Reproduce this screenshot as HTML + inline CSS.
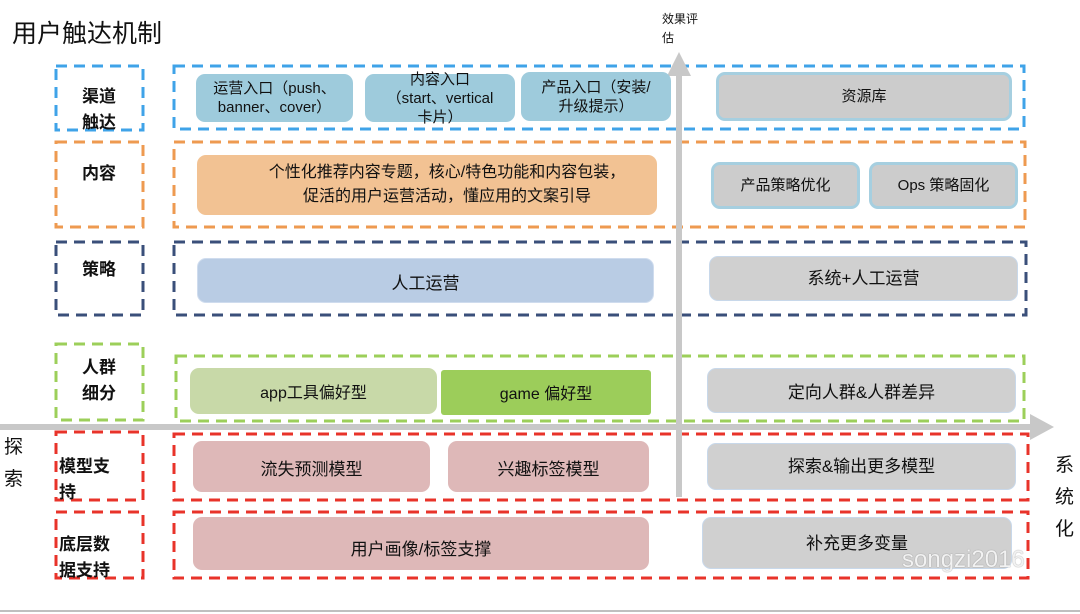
<!DOCTYPE html>
<html><head><meta charset="utf-8"><style>
body{margin:0;width:1080px;height:614px;background:#fff;position:relative;overflow:hidden;font-family:"Liberation Sans","Noto Sans CJK SC",sans-serif;color:#111}
.a{position:absolute}
.b{position:absolute;display:flex;align-items:center;justify-content:center;text-align:center;border-radius:9px;box-sizing:border-box;font-size:15px;line-height:21px}
.bl{background:#9ecbdc;font-size:14px;line-height:19px}
.g{background:#cccccc;border:3px solid #a6cfe0;font-size:15px}
.g2{background:#d0d0d0;border:1.5px solid #c8d8ea;font-size:17px}
.l{position:absolute;font-size:17px;font-weight:bold;line-height:26px;text-align:center;width:88px}
</style></head><body>
<div class="a" style="left:12px;top:14px;font-size:25px">用户触达机制</div>
<div class="a" style="left:662px;top:10px;font-size:12px;line-height:19px">效果评<br>估</div>
<svg class="a" style="left:0;top:0" width="1080" height="614">
<g fill="none" stroke-width="3" stroke-dasharray="11,7">
<rect x="56" y="66" width="87" height="64" stroke="#3fa3e8"/>
<rect x="174" y="66" width="850" height="63" stroke="#3fa3e8"/>
<rect x="56" y="142" width="87" height="85" stroke="#ee9a50"/>
<rect x="174" y="142" width="851" height="85" stroke="#ee9a50"/>
<rect x="56" y="242" width="87" height="73" stroke="#3a4f7a"/>
<rect x="174" y="242" width="852" height="73" stroke="#3a4f7a"/>
<rect x="56" y="344" width="87" height="76" stroke="#9ccf5a"/>
<rect x="176" y="356" width="848" height="65" stroke="#9ccf5a"/>
<rect x="56" y="432" width="87" height="68" stroke="#e8332a"/>
<rect x="174" y="434" width="854" height="66" stroke="#e8332a"/>
<rect x="56" y="512" width="87" height="66" stroke="#e8332a"/>
<rect x="174" y="512" width="854" height="66" stroke="#e8332a"/>
</g>
<line x1="0" y1="427" x2="1032" y2="427" stroke="#c8c8c8" stroke-width="6"/>
<polygon points="1030,414 1054,427 1030,440" fill="#c8c8c8"/>
<line x1="679" y1="497" x2="679" y2="74" stroke="#c8c8c8" stroke-width="6"/>
<polygon points="667,76 679,52 691,76" fill="#c8c8c8"/>
<line x1="0" y1="611" x2="1080" y2="611" stroke="#aaa" stroke-width="1.5"/>
</svg>
<div class="l" style="left:55px;top:84px">渠道<br>触达</div>
<div class="l" style="left:55px;top:161px">内容</div>
<div class="l" style="left:55px;top:257px">策略</div>
<div class="l" style="left:55px;top:355px">人群<br>细分</div>
<div class="l" style="left:59px;top:454px;text-align:left">模型支<br>持</div>
<div class="l" style="left:59px;top:532px;text-align:left">底层数<br>据支持</div>
<div class="a" style="left:4px;top:432px;font-size:19px;line-height:32px">探<br>索</div>
<div class="a" style="left:1055px;top:450px;font-size:19px;line-height:32px">系<br>统<br>化</div>

<div class="b bl" style="left:196px;top:74px;width:157px;height:48px;font-size:15px">运营入口（push、<br>banner、cover）</div>
<div class="b bl" style="left:365px;top:74px;width:150px;height:48px;font-size:15px">内容入口<br>（start、vertical<br>卡片）</div>
<div class="b bl" style="left:521px;top:72px;width:150px;height:49px;font-size:15px">产品入口（安装/<br>升级提示）</div>
<div class="b g" style="left:716px;top:72px;width:296px;height:49px">资源库</div>

<div class="b" style="left:197px;top:155px;width:460px;height:60px;background:#f2c293;font-size:16px;line-height:24px;padding-left:40px">个性化推荐内容专题，核心/特色功能和内容包装，<br>促活的用户运营活动，懂应用的文案引导</div>
<div class="b g" style="left:711px;top:162px;width:149px;height:47px">产品策略优化</div>
<div class="b g" style="left:869px;top:162px;width:149px;height:47px">Ops 策略固化</div>

<div class="b" style="left:197px;top:258px;width:457px;height:45px;background:#b9cce4;border:1.5px solid #cfdcee;font-size:17px;padding-top:6px">人工运营</div>
<div class="b g2" style="left:709px;top:256px;width:309px;height:45px">系统+人工运营</div>

<div class="b" style="left:190px;top:368px;width:247px;height:46px;background:#c8d9a8;font-size:16px;padding-top:4px">app工具偏好型</div>
<div class="b" style="left:441px;top:370px;width:210px;height:45px;background:#9ccd5a;border-radius:3px;font-size:16px;padding-top:4px">game 偏好型</div>
<div class="b g2" style="left:707px;top:368px;width:309px;height:45px;padding-top:4px">定向人群&amp;人群差异</div>

<div class="b" style="left:193px;top:441px;width:237px;height:51px;background:#deb8b8;font-size:17px;padding-top:6px">流失预测模型</div>
<div class="b" style="left:448px;top:441px;width:201px;height:51px;background:#deb8b8;font-size:17px;padding-top:6px">兴趣标签模型</div>
<div class="b g2" style="left:707px;top:443px;width:309px;height:47px">探索&amp;输出更多模型</div>

<div class="b" style="left:193px;top:517px;width:456px;height:53px;background:#deb8b8;font-size:17px;padding-top:12px">用户画像/标签支撑</div>
<div class="b g2" style="left:702px;top:517px;width:310px;height:52px">补充更多变量</div>
<div class="a" style="left:902px;top:546px;font-size:24px;color:#f2f2f2;text-shadow:0 0 1px #777">songzi2016</div>
</body></html>
